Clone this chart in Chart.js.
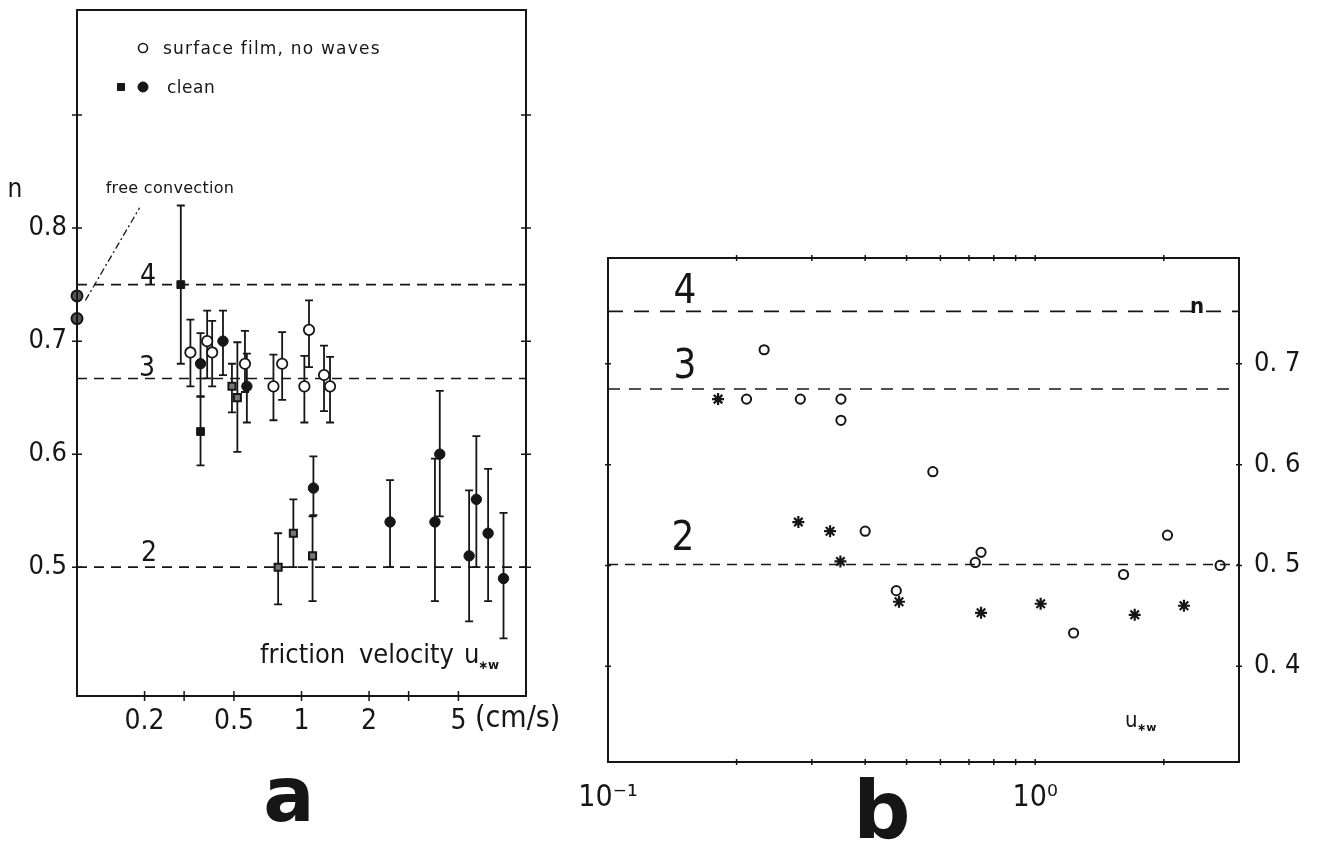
<!DOCTYPE html>
<html>
<head>
<meta charset="utf-8">
<script src="https://cdn.jsdelivr.net/npm/chart.js@4.4.1/dist/chart.umd.min.js"></script>
<style>
  html, body { margin: 0; padding: 0; background: #fff; width: 1318px; height: 841px; overflow: hidden; }
  canvas { position: absolute; top: 0; }
  #chartA { left: 0; }
  #chartB { left: 560px; }
</style>
</head>
<body>
<canvas id="chartA" width="570" height="841"></canvas>
<canvas id="chartB" width="758" height="841"></canvas>
<script>
// 色とフォント
const INK = '#161616';
const FONT_NARROW = '"Liberation Sans Narrow", "DejaVu Sans Condensed", sans-serif';
const FONT_PLAIN = '"DejaVu Sans", sans-serif';

// ---- 図 a のデータ ----
const A_XTICKS = [0.2, 0.3, 0.5, 1, 2, 3, 5];
const A_XLABELS = ['0.2', '', '0.5', '1', '2', '', '5'];
const A_YTICKS = [0.5, 0.6, 0.7, 0.8, 0.9];
const A_YLABELS = ['0.5', '0.6', '0.7', '0.8', ''];
const A_LEVELS = [0.75, 0.667, 0.5];           // 4, 3, 2

// free convection（u = 0 の点、左軸上）
const FREE_X = [0.1, 0.1];
const FREE_N = [0.74, 0.72];
const LEADER_X = [0.109, 0.19];
const LEADER_N = [0.736, 0.818];

// surface film, no waves（白丸）
const FILM_X  = [0.32, 0.38, 0.40, 0.56, 0.75, 0.82, 1.08, 1.03, 1.26, 1.34];
const FILM_N  = [0.69, 0.70, 0.69, 0.68, 0.66, 0.68, 0.71, 0.66, 0.67, 0.66];
const FILM_LO = [0.66, 0.667, 0.66, 0.655, 0.63, 0.648, 0.677, 0.628, 0.638, 0.628];
const FILM_HI = [0.719, 0.727, 0.718, 0.709, 0.688, 0.708, 0.736, 0.687, 0.696, 0.686];

// clean（黒丸）
const CLEAN_X  = [0.355, 0.447, 0.571, 1.13, 2.48, 3.93, 4.13, 5.58, 6.01, 6.78, 7.94];
const CLEAN_N  = [0.68, 0.70, 0.66, 0.57, 0.54, 0.54, 0.60, 0.51, 0.56, 0.53, 0.49];
const CLEAN_LO = [0.651, 0.67, 0.628, 0.546, 0.50, 0.47, 0.545, 0.452, 0.50, 0.47, 0.437];
const CLEAN_HI = [0.707, 0.727, 0.689, 0.598, 0.577, 0.596, 0.656, 0.568, 0.616, 0.587, 0.548];

// clean（黒四角）
const SQ_X  = [0.29, 0.355];
const SQ_N  = [0.75, 0.62];
const SQ_LO = [0.68, 0.59];
const SQ_HI = [0.82, 0.651];

// clean（網掛け四角）
const SQH_X  = [0.49, 0.518, 0.787, 0.92, 1.12];
const SQH_N  = [0.66, 0.65, 0.50, 0.53, 0.51];
const SQH_LO = [0.637, 0.602, 0.467, 0.50, 0.47];
const SQH_HI = [0.68, 0.699, 0.53, 0.56, 0.545];

// ---- 図 b のデータ ----
const B_XTICKS = [0.1, 0.2, 0.3, 0.4, 0.5, 0.6, 0.7, 0.8, 0.9, 1, 2];
const B_XLABELS = ['10\u207B\u00B9', '', '', '', '', '', '', '', '', '10\u2070', ''];
const B_YTICKS = [0.4, 0.5, 0.6, 0.7];
const B_YLABELS = ['0. 4', '0. 5', '0. 6', '0. 7'];
const B_LEVELS = [0.752, 0.675, 0.501];        // 4, 3, 2

const B_CIRC_X = [0.211, 0.232, 0.282, 0.351, 0.351, 0.400, 0.473, 0.576, 0.724, 0.747, 1.23, 1.61, 2.04, 2.71];
const B_CIRC_N = [0.665, 0.714, 0.665, 0.665, 0.644, 0.534, 0.475, 0.593, 0.503, 0.513, 0.433, 0.491, 0.530, 0.500];
const B_STAR_X = [0.181, 0.279, 0.331, 0.350, 0.48, 0.747, 1.03, 1.71, 2.23];
const B_STAR_N = [0.665, 0.543, 0.534, 0.504, 0.464, 0.453, 0.462, 0.451, 0.460];

// 配列から {x, y} の点列を作る
function pts(xs, ys) {
  return xs.map((x, i) => ({ x, y: ys[i] }));
}

// 水平の破線（レベル線）
function levelLine(level, xmin, xmax, dash) {
  return {
    type: 'line',
    data: [{ x: xmin, y: level }, { x: xmax, y: level }],
    borderColor: INK,
    borderWidth: 1.6,
    borderDash: dash,
    pointRadius: 0,
    fill: false,
    order: 10,
  };
}

// 枠線
const framePlugin = {
  id: 'frame',
  afterDraw(chart, args, opts) {
    const { ctx, chartArea: ca } = chart;
    ctx.save();
    ctx.strokeStyle = INK;
    ctx.lineWidth = opts.width || 2;
    ctx.strokeRect(ca.left, ca.top, ca.right - ca.left, ca.bottom - ca.top);
    ctx.restore();
  },
};

// 軸をまたぐ十字の目盛り
const crossTickPlugin = {
  id: 'crossTicks',
  afterDraw(chart, args, opts) {
    const { ctx, chartArea: ca } = chart;
    const L = opts.len || 5;
    ctx.save();
    ctx.strokeStyle = INK;
    ctx.lineWidth = opts.width || 1.5;
    ctx.beginPath();
    const xs = chart.scales.x;
    (opts.xSides || []).forEach(side => {
      const py = side === 'top' ? ca.top : ca.bottom;
      xs.ticks.forEach(t => {
        const px = xs.getPixelForValue(t.value);
        if (px <= ca.left + 1 || px >= ca.right - 1) return;
        ctx.moveTo(px, py - L);
        ctx.lineTo(px, py + L);
      });
    });
    const ys = chart.scales[opts.yScale || 'y'];
    (opts.ySides || []).forEach(side => {
      const px = side === 'left' ? ca.left : ca.right;
      ys.ticks.forEach(t => {
        const py = ys.getPixelForValue(t.value);
        if (py <= ca.top + 1 || py >= ca.bottom - 1) return;
        ctx.moveTo(px - L, py);
        ctx.lineTo(px + L, py);
      });
    });
    ctx.stroke();
    ctx.restore();
  },
};

// 誤差棒（データセットの errLo / errHi を使う）
const errorBarPlugin = {
  id: 'errorBars',
  beforeDatasetsDraw(chart, args, opts) {
    const { ctx } = chart;
    const cap = opts.cap || 4;
    ctx.save();
    ctx.strokeStyle = INK;
    ctx.lineWidth = opts.width || 1.8;
    chart.data.datasets.forEach(ds => {
      if (!ds.errLo) return;
      const xs = chart.scales.x;
      const ys = chart.scales[ds.yAxisID || 'y'];
      ds.data.forEach((p, i) => {
        const px = xs.getPixelForValue(p.x);
        const top = ys.getPixelForValue(ds.errHi[i]);
        const bot = ys.getPixelForValue(ds.errLo[i]);
        ctx.beginPath();
        ctx.moveTo(px, top); ctx.lineTo(px, bot);
        ctx.moveTo(px - cap, top); ctx.lineTo(px + cap, top);
        ctx.moveTo(px - cap, bot); ctx.lineTo(px + cap, bot);
        ctx.stroke();
      });
    });
    ctx.restore();
  },
};

// 図中の文字と凡例
const notesPlugin = {
  id: 'notes',
  afterDraw(chart, args, opts) {
    const { ctx } = chart;
    ctx.save();
    ctx.fillStyle = INK;
    ctx.strokeStyle = INK;
    (opts.texts || []).forEach(t => {
      ctx.font = t.font;
      ctx.letterSpacing = t.spacing || '0px';
      ctx.textAlign = t.align || 'left';
      ctx.textBaseline = 'alphabetic';
      ctx.fillText(t.text, t.x, t.y);
    });
    ctx.letterSpacing = '0px';
    (opts.marks || []).forEach(m => {
      ctx.fillStyle = m.fill;
      ctx.strokeStyle = INK;
      ctx.lineWidth = m.borderWidth;
      Chart.helpers.drawPoint(ctx, { pointStyle: m.style, radius: m.radius, borderWidth: m.borderWidth, rotation: 0 }, m.x, m.y);
    });
    ctx.restore();
  },
};

// 対数軸の共通設定
function logAxis(min, max, ticks, labels, height, fontSize, pad) {
  return {
    type: 'logarithmic',
    position: 'bottom',
    min, max,
    afterBuildTicks: s => { s.ticks = ticks.map(v => ({ value: v })); },
    afterFit: s => { s.height = height; s.paddingLeft = 0; s.paddingRight = 0; },
    grid: { display: false, drawTicks: false },
    border: { display: false },
    ticks: {
      callback: (v, i) => labels[i],
      autoSkip: false, maxRotation: 0,
      color: INK, padding: pad,
      font: { family: FONT_NARROW, size: fontSize },
    },
  };
}

function linAxis(pos, min, max, ticks, labels, width, showLabels, fontSize, pad) {
  return {
    type: 'linear',
    position: pos,
    min, max,
    afterBuildTicks: s => { s.ticks = ticks.map(v => ({ value: v })); },
    afterFit: s => { s.width = width; s.paddingTop = 0; s.paddingBottom = 0; },
    grid: { display: false, drawTicks: false },
    border: { display: false },
    ticks: {
      display: showLabels,
      callback: (v, i) => labels[i],
      autoSkip: false,
      color: INK, padding: pad,
      font: { family: FONT_NARROW, size: fontSize },
    },
  };
}

// ---- 図 a ----
function drawPanelA() {
  const ctx = document.getElementById('chartA').getContext('2d');
  new Chart(ctx, {
    type: 'scatter',
    data: {
      datasets: [
        ...A_LEVELS.map(v => levelLine(v, 0.1, 10, [10, 7])),
        {
          type: 'line',
          data: pts(LEADER_X, LEADER_N),
          borderColor: INK, borderWidth: 1.3, borderDash: [7, 3, 2, 3],
          pointRadius: 0, fill: false, order: 9,
        },
        {
          data: pts(FREE_X, FREE_N),
          clip: false,
          pointStyle: 'circle', pointRadius: 5.5,
          pointBackgroundColor: '#555', pointBorderColor: INK, pointBorderWidth: 2,
        },
        {
          data: pts(FILM_X, FILM_N), errLo: FILM_LO, errHi: FILM_HI,
          pointStyle: 'circle', pointRadius: 5.2,
          pointBackgroundColor: '#fff', pointBorderColor: INK, pointBorderWidth: 1.8,
        },
        {
          data: pts(CLEAN_X, CLEAN_N), errLo: CLEAN_LO, errHi: CLEAN_HI,
          pointStyle: 'circle', pointRadius: 5.2,
          pointBackgroundColor: INK, pointBorderColor: INK, pointBorderWidth: 1,
        },
        {
          data: pts(SQ_X, SQ_N), errLo: SQ_LO, errHi: SQ_HI,
          pointStyle: 'rect', pointRadius: 5.5,
          pointBackgroundColor: INK, pointBorderColor: INK, pointBorderWidth: 1,
        },
        {
          data: pts(SQH_X, SQH_N), errLo: SQH_LO, errHi: SQH_HI,
          pointStyle: 'rect', pointRadius: 5,
          pointBackgroundColor: '#777', pointBorderColor: INK, pointBorderWidth: 2,
        },
      ],
    },
    options: {
      responsive: false,
      devicePixelRatio: 1,
      animation: false,
      layout: { padding: { top: 10, left: 0, right: 0, bottom: 0 } },
      scales: {
        x: logAxis(0.1, 10, A_XTICKS, A_XLABELS, 145, 28, 9),
        y: linAxis('left', 0.386, 0.993, A_YTICKS, A_YLABELS, 77, true, 27, 10),
        y2: linAxis('right', 0.386, 0.993, A_YTICKS, A_YLABELS, 44, false, 27, 0),
      },
      plugins: {
        legend: { display: false },
        tooltip: { enabled: false },
        frame: { width: 2 },
        crossTicks: { len: 5, xSides: ['bottom'], ySides: ['left', 'right'] },
        errorBars: { cap: 4, width: 1.8 },
        notes: {
          texts: [
            { text: 'n', x: 15, y: 197, font: `26px ${FONT_NARROW}`, align: 'center' },
            { text: 'free convection', x: 170, y: 193, font: `16px ${FONT_PLAIN}`, align: 'center', spacing: '0.3px' },
            { text: 'surface film, no waves', x: 163, y: 54, font: `17px ${FONT_PLAIN}`, spacing: '1.2px' },
            { text: 'clean', x: 167, y: 93, font: `17px ${FONT_PLAIN}`, spacing: '0.5px' },
            { text: '4', x: 148, y: 284, font: `28px ${FONT_NARROW}`, align: 'center' },
            { text: '3', x: 147, y: 376, font: `28px ${FONT_NARROW}`, align: 'center' },
            { text: '2', x: 149, y: 561, font: `28px ${FONT_NARROW}`, align: 'center' },
            { text: 'friction', x: 260, y: 663, font: `27px ${FONT_NARROW}` },
            { text: 'velocity', x: 359, y: 663, font: `27px ${FONT_NARROW}` },
            { text: 'u', x: 464, y: 663, font: `27px ${FONT_NARROW}` },
            { text: '\u2217w', x: 478, y: 669, font: `bold 12px ${FONT_PLAIN}` },
            { text: '(cm/s)', x: 475, y: 727, font: `30px ${FONT_NARROW}` },
            { text: 'a', x: 289, y: 821, font: `bold 76px ${FONT_PLAIN}`, align: 'center' },
          ],
          marks: [
            { style: 'circle', radius: 4.5, borderWidth: 1.6, fill: '#fff', x: 143, y: 48 },
            { style: 'rect', radius: 5, borderWidth: 1, fill: INK, x: 121, y: 87 },
            { style: 'circle', radius: 5, borderWidth: 1, fill: INK, x: 143, y: 87 },
          ],
        },
      },
    },
    plugins: [errorBarPlugin, framePlugin, crossTickPlugin, notesPlugin],
  });
}

// ---- 図 b ----
function drawPanelB() {
  const ctx = document.getElementById('chartB').getContext('2d');
  new Chart(ctx, {
    type: 'scatter',
    data: {
      datasets: [
        levelLine(B_LEVELS[0], 0.1, 3, [15, 11]),
        levelLine(B_LEVELS[1], 0.1, 3, [12, 9]),
        levelLine(B_LEVELS[2], 0.1, 3, [10, 7]),
        {
          data: pts(B_CIRC_X, B_CIRC_N),
          pointStyle: 'circle', pointRadius: 4.6,
          pointBackgroundColor: 'rgba(255,255,255,0)', pointBorderColor: INK, pointBorderWidth: 2,
        },
        {
          data: pts(B_STAR_X, B_STAR_N),
          pointStyle: 'star', pointRadius: 6,
          pointBackgroundColor: INK, pointBorderColor: INK, pointBorderWidth: 2.2,
        },
      ],
    },
    options: {
      responsive: false,
      devicePixelRatio: 1,
      animation: false,
      layout: { padding: { top: 258, left: 0, right: 0, bottom: 0 } },
      scales: {
        x: logAxis(0.1, 3, B_XTICKS, B_XLABELS, 79, 30, 18),
        y: linAxis('right', 0.305, 0.805, B_YTICKS, B_YLABELS, 79, true, 27, 15),
        yl: linAxis('left', 0.305, 0.805, B_YTICKS, B_YLABELS, 48, false, 27, 0),
      },
      plugins: {
        legend: { display: false },
        tooltip: { enabled: false },
        frame: { width: 2 },
        crossTicks: { len: 3, xSides: ['top', 'bottom'], ySides: ['left', 'right'] },
        notes: {
          texts: [
            { text: '4', x: 125, y: 303, font: `40px ${FONT_NARROW}`, align: 'center' },
            { text: '3', x: 125, y: 378, font: `40px ${FONT_NARROW}`, align: 'center' },
            { text: '2', x: 123, y: 550, font: `40px ${FONT_NARROW}`, align: 'center' },
            { text: 'n', x: 637, y: 313, font: `bold 22px ${FONT_NARROW}`, align: 'center' },
            { text: 'u', x: 565, y: 727, font: `22px ${FONT_NARROW}` },
            { text: '\u2217w', x: 577, y: 731, font: `bold 11px ${FONT_PLAIN}` },
            { text: 'b', x: 322, y: 838, font: `bold 80px ${FONT_PLAIN}`, align: 'center' },
          ],
        },
      },
    },
    plugins: [framePlugin, crossTickPlugin, notesPlugin],
  });
}

drawPanelA();
drawPanelB();
</script>
</body>
</html>
